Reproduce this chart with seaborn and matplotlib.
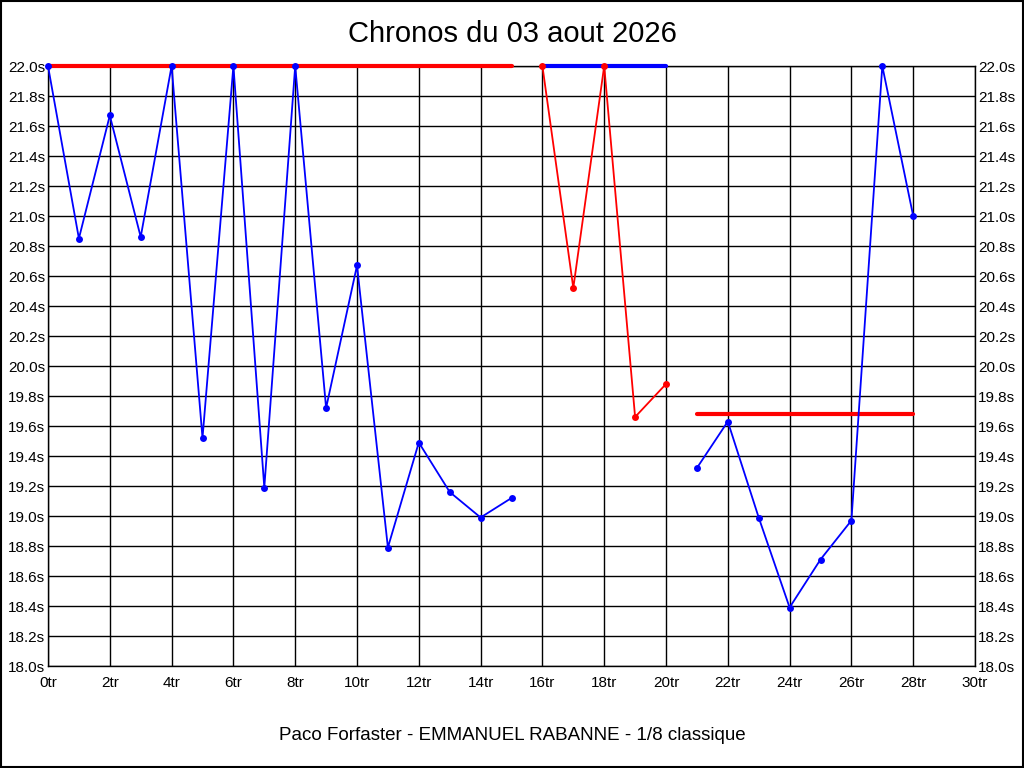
import matplotlib
matplotlib.use("Agg")
import matplotlib.pyplot as plt
import seaborn as sns
import pandas as pd

# laps and times (seconds), three runs
tours_a = list(range(0, 16))
temps_a = [22.0, 20.85, 21.67, 20.86, 22.0, 19.52, 22.0, 19.19,
           22.0, 19.72, 20.67, 18.79, 19.49, 19.16, 18.99, 19.12]
tours_b = [16, 17, 18, 19, 20]
temps_b = [22.0, 20.52, 22.0, 19.66, 19.88]
tours_c = [21, 22, 23, 24, 25, 26, 27, 28]
temps_c = [19.32, 19.63, 18.99, 18.39, 18.71, 18.97, 22.0, 21.0]

# reference levels per run: (start lap, end lap, time)
ref_a = (0, 15, 22.0)
ref_b = (16, 20, 22.0)
ref_c = (21, 28, 19.68)

x_ticks = list(range(0, 31, 2))
y_ticks = [18.0 + 0.2 * i for i in range(21)]

title = "Chronos du 03 aout 2026"
footer = "Paco Forfaster - EMMANUEL RABANNE - 1/8 classique"

BLUE = "#0000ff"
RED = "#ff0000"

sns.set_style("white")
plt.rcParams["font.family"] = ["Liberation Sans", "DejaVu Sans"]
plt.rcParams["text.color"] = "black"

fig = plt.figure(figsize=(10.24, 7.68), dpi=100)
ax = fig.add_axes([48 / 1024, 102 / 768, 927 / 1024, 600 / 768])

# reference lines first, under the runs
for (x0, x1, y), col in [(ref_a, RED), (ref_b, BLUE), (ref_c, RED)]:
    ref = pd.DataFrame({"tour": [x0, x1], "temps": [y, y]})
    sns.lineplot(data=ref, x="tour", y="temps", color=col, linewidth=3,
                 ax=ax, zorder=3, clip_on=False)

for xs, ys, col in [(tours_a, temps_a, BLUE), (tours_b, temps_b, RED),
                    (tours_c, temps_c, BLUE)]:
    df = pd.DataFrame({"tour": xs, "temps": ys})
    sns.lineplot(data=df, x="tour", y="temps", color=col, linewidth=1.3,
                 marker="o", markersize=5, markeredgewidth=0, ax=ax,
                 zorder=4, clip_on=False)

ax.set_xlim(0, 30)
ax.set_ylim(18.0, 22.0)
ax.set_xticks(x_ticks)
ax.set_xticklabels([f"{t}tr" for t in x_ticks])
ax.set_yticks(y_ticks)
ax.set_yticklabels([f"{t:.1f}s" for t in y_ticks])
ax.grid(True, color="black", linewidth=1)
ax.set_axisbelow(True)
ax.tick_params(axis="both", length=0, labelsize=11, colors="black")
ax.tick_params(axis="x", pad=7)
ax.tick_params(axis="y", left=True, right=True, labelleft=True,
               labelright=True, length=0, pad=2)
for s in ax.spines.values():
    s.set_color("black")
    s.set_linewidth(1)
ax.set_xlabel("")
ax.set_ylabel("")

fig.text(0.5, 1 - 34 / 768, title, ha="center", va="center", fontsize=21,
         color="black")
fig.text(0.5, 1 - 735 / 768, footer, ha="center", va="center",
         fontsize=13.5, color="black")

# outer frame of the picture
fig.patches.append(plt.Rectangle((0.0005, 0.0007), 0.999, 0.9986,
                                 transform=fig.transFigure, fill=False,
                                 edgecolor="black", linewidth=1.5))

fig.savefig("out.png", dpi=100)
